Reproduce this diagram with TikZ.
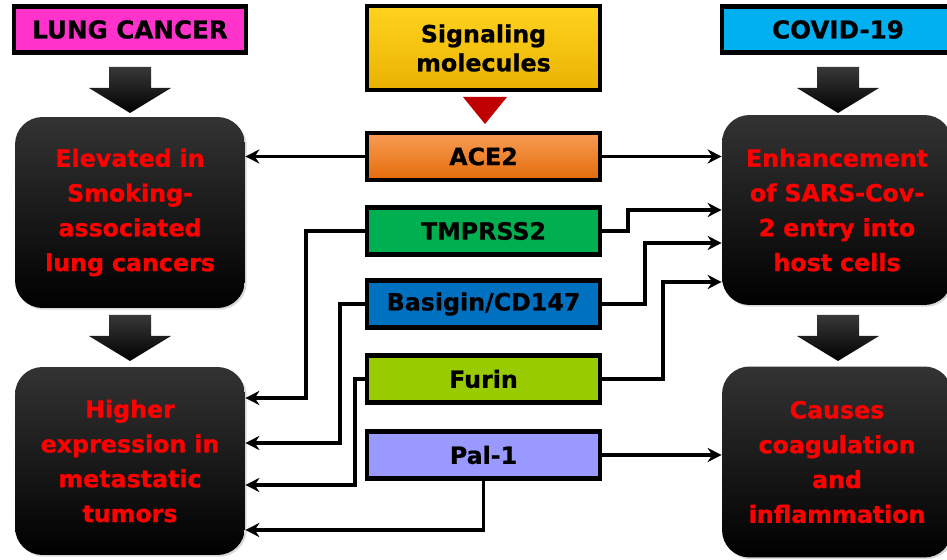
\documentclass[tikz,border=0pt]{standalone}
\usepackage{fontspec}
\setmainfont{DejaVu Sans}[BoldFeatures={FakeBold=0.8}]
\usepackage{xcolor}
\usepackage{tikz}
\usetikzlibrary{arrows.meta,shadows}

\definecolor{lungpink}{HTML}{FF33CC}
\definecolor{sigtop}{HTML}{FFD320}
\definecolor{sigbot}{HTML}{EAB200}
\definecolor{covidblue}{HTML}{00B0F0}
\definecolor{acetop}{HTML}{F89C55}
\definecolor{acebot}{HTML}{E46C0A}
\definecolor{tmpgreen}{HTML}{00B050}
\definecolor{basblue}{HTML}{0070C0}
\definecolor{furgreen}{HTML}{99CC00}
\definecolor{palblue}{HTML}{9999FF}
\definecolor{tridark}{HTML}{C00000}

\tikzset{
	hdr/.style={draw,line width=2.3pt,minimum width=4.66cm,minimum height=0.92cm,
		inner sep=0pt,align=center,font=\bfseries\fontsize{14}{17}\selectfont,
		drop shadow={shadow xshift=1pt,shadow yshift=-1pt,opacity=.3}},
	mol/.style={hdr,minimum height=0.94cm,font=\bfseries\fontsize{13.5}{16.5}\selectfont},
	dark/.style={rounded corners=0.55cm,top color=black!80,middle color=black,bottom color=black,
		minimum width=4.6cm,text width=4.4cm,align=center,text=red,inner sep=0pt,
		font=\bfseries\fontsize{13.5}{19.8}\selectfont,
		drop shadow={shadow xshift=1pt,shadow yshift=-1pt,opacity=.3}},
	link/.style={line width=2.1pt,-{Stealth[length=8pt,width=8pt]}}
}

\begin{document}
\begin{tikzpicture}[x=0.02cm,y=-0.02cm]
	\useasboundingbox (0,0) rectangle (947,560);

	\node[hdr,fill=lungpink] (lung) at (130,29.5) {LUNG CANCER};
	\node[mol,top color=sigtop,bottom color=sigbot,minimum height=1.68cm] (sig) at (483.5,48) {Signaling\\molecules};
	\node[hdr,fill=covidblue] (covid) at (838,29.5) {COVID-19};

	\fill[tridark] (463,97) -- (507,97) -- (485,124) -- cycle;

	\node[mol,top color=acetop,bottom color=acebot] (ace) at (483.5,156.5) {ACE2};
	\node[mol,fill=tmpgreen] (tmp) at (483.5,231) {TMPRSS2};
	\node[mol,fill=basblue] (bas) at (483.5,304) {Basigin/CD147};
	\node[mol,fill=furgreen] (fur) at (483.5,379) {Furin};
	\node[mol,fill=palblue] (pal) at (483.5,455) {Pal-1};

	\node[dark,minimum height=3.82cm] (elev) at (130,212.5) {Elevated in\\Smoking-\\associated\\lung cancers};
	\node[dark,minimum height=3.76cm] (high) at (130,461) {Higher\\expression in\\metastatic\\tumors};
	\node[dark,minimum height=3.8cm] (enh) at (837,210) {Enhancement\\of SARS-Cov-\\2 entry into\\host cells};
	\node[dark,minimum height=3.82cm] (caus) at (837,462) {Causes\\coagulation\\and\\inflammation};

	% block arrows
	\foreach \x/\y in {130/67,838/67,130/315,838/315}
		\shade[top color=black!78,bottom color=black]
			(\x-21,\y) -- (\x+21,\y) -- (\x+21,\y+21) -- (\x+41,\y+21)
			-- (\x,\y+46) -- (\x-41,\y+21) -- (\x-21,\y+21) -- cycle;

	% connectors
	\draw[link] (ace.west) -- (elev.east |- ace.west);
	\draw[link] (ace.east) -- (enh.west |- ace.east);
	\draw[link] (pal.east) -- (caus.west |- pal.east);
	\foreach \n/\xr/\yr in {tmp/628/210,bas/645/243,fur/663/282}
		\draw[link] (\n.east) -| (\xr,\yr) -- (enh.west |- 0,\yr);
	\foreach \n/\xl/\yl in {tmp/306/398,bas/340/443,fur/355/485}
		\draw[link] (\n.west) -| (\xl,\yl) -- (high.east |- 0,\yl);
	\draw[link] (pal.south) |- (high.east |- 0,530);
\end{tikzpicture}
\end{document}
